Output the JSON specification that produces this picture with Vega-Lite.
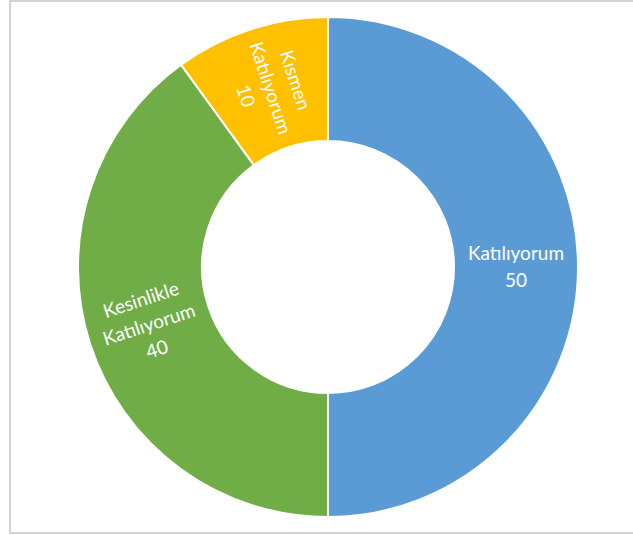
{
  "$schema": "https://vega.github.io/schema/vega-lite/v6.json",
  "autosize": {"type": "fit", "contains": "padding"},
  "width": 633,
  "height": 535,
  "padding": {"left": 10, "top": 1, "right": -13, "bottom": 2},
  "background": "white",
  "view": {"stroke": "#c4c4c4", "strokeWidth": 1.5},
  "config": {"view": {"stroke": "#c4c4c4", "strokeWidth": 1.5}},
  "data": {"values": [
    {"category": "Katılıyorum", "value": 50, "idx": 1},
    {"category": "Kesinlikle Katılıyorum", "value": 40, "idx": 2},
    {"category": "Kısmen Katılıyorum", "value": 10, "idx": 3}
  ]},
  "transform": [{"calculate": "datum.category + ' ' + datum.value", "as": "label"}],
  "encoding": {
    "theta": {"field": "value", "type": "quantitative", "stack": true},
    "order": {"field": "idx", "type": "quantitative"}
  },
  "layer": [
    {
      "mark": {"type": "arc", "outerRadius": 250, "innerRadius": 126, "stroke": "white", "strokeWidth": 2},
      "encoding": {
        "color": {
          "field": "category", "type": "nominal", "legend": null,
          "scale": {"domain": ["Katılıyorum", "Kesinlikle Katılıyorum", "Kısmen Katılıyorum"], "range": ["#5B9BD5", "#70AD47", "#FFC000"]}
        }
      }
    },
    {
      "mark": {"type": "text", "radius": 188, "color": "white", "font": "Lato", "fontSize": 19, "lineBreak": " ", "lineHeight": 27, "align": "center", "baseline": "middle", "angle": 0, "dy": -13},
      "encoding": {"text": {"condition": {"test": "datum.idx == 1", "field": "label"}, "value": ""}}
    },
    {
      "mark": {"type": "text", "radius": 188, "color": "white", "font": "Lato", "fontSize": 19, "lineBreak": " ", "lineHeight": 26, "align": "center", "baseline": "middle", "angle": 342, "dy": -26},
      "encoding": {"text": {"condition": {"test": "datum.idx == 2", "field": "label"}, "value": ""}}
    },
    {
      "mark": {"type": "text", "radius": 188, "color": "white", "font": "Lato", "fontSize": 19, "lineBreak": " ", "lineHeight": 26, "align": "center", "baseline": "middle", "angle": 72, "dy": -26},
      "encoding": {"text": {"condition": {"test": "datum.idx == 3", "field": "label"}, "value": ""}}
    }
  ]
}
